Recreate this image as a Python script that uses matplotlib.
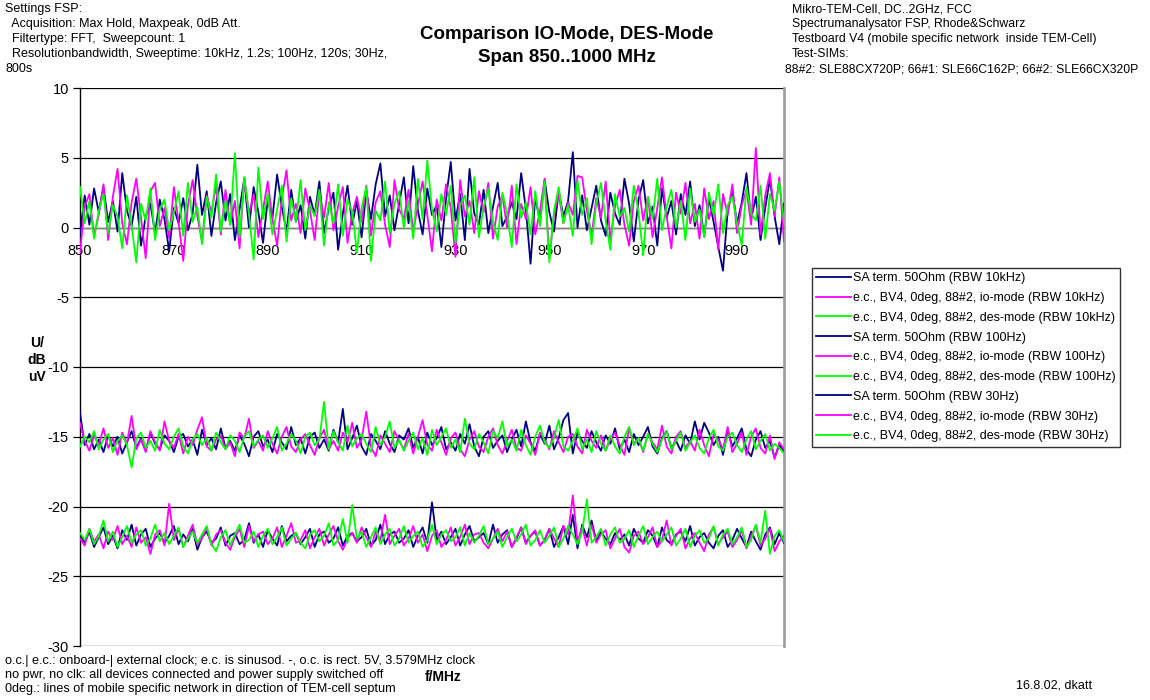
import numpy as np
import matplotlib
matplotlib.use("Agg")
import matplotlib.pyplot as plt

plt.rcParams['font.family'] = ['Liberation Sans', 'DejaVu Sans']

# ---- measured levels (dBuV), 1 MHz steps from 850 to 1000 MHz ----
navy_10k = [
    -0.5, 2.3, 0.2, 2.8, 1.1, 2.9, 0.4, 1.9, -0.3, 3.9,
    1.2, 0.1, 2.2, -1.3, 0.8, 1.7, -0.4, 2.0, 0.6, -1.7,
    1.4, 0.3, 2.1, -0.2, 1.0, 4.5, 0.9, 2.6, -0.6, 1.8,
    3.3, 0.5, 2.4, -0.9, 1.3, 3.5, 0.0, 2.9, 1.1, -1.1,
    2.0, 0.7, 3.8, 1.5, -0.3, 2.7, 0.4, 1.6, -0.8, 2.2,
    0.9, 3.3, -0.4, 1.4, 2.5, -1.6, 1.0, 3.0, 0.2, 1.9,
    -0.7, 2.6, 0.6, 3.1, 4.6, 0.8, 2.3, -0.2, 1.7, 3.6,
    0.3, 4.4, 1.2, -0.5, 2.8, 0.9, 1.6, -1.4, 2.1, 4.7,
    0.5, 2.4, -0.9, 4.2, 1.0, 0.2, 2.7, -0.4, 1.5, 3.2,
    0.1, 0.8, 1.8, 0.6, 3.9, 1.3, -2.6, 2.2, 0.4, 3.4,
    1.1, -0.3, 2.6, 0.8, 1.9, 5.4, 0.0, 2.3, -0.2, 1.4,
    3.0, 0.5, -0.6, 2.5, 1.0, 0.2, 3.5, 1.7, -1.0, 2.0,
    3.4, 0.3, 1.5, -1.3, 2.8, 0.7, 1.9, -0.5, 2.4, 0.9,
    3.3, 0.1, 1.6, -0.6, 2.1, 0.4, -1.4, -3.1, 1.2, 2.6,
    0.3, 1.8, 3.9, 0.6, 2.2, -0.9, 1.4, 3.5, 0.8, -1.2,
    1.7,
]
magenta_10k = [
    -1.8, 1.5, 2.4, -0.6, 0.9, 3.1, -0.9, 2.2, 4.2, 0.3,
    -1.2, 1.8, 3.5, 0.7, -2.2, 2.6, 3.2, 0.1, 1.4, -0.8,
    2.9, 0.4, -2.4, 1.6, 3.4, 0.8, -1.0, 2.3, 1.1, 3.0,
    -0.5, 2.7, 0.2, 1.9, -1.5, 3.6, 1.0, 2.4, -0.7, 1.3,
    3.3, 0.6, -1.3, 2.1, 4.1, 0.5, 1.7, -0.4, 2.8, 1.2,
    -0.9, 2.5, 0.7, 3.2, -0.2, 1.5, 2.9, -1.1, 1.0, 2.2,
    0.4, 3.0, -0.6, 1.8, 2.6, 0.2, -1.4, 3.4, 1.3, 0.6,
    2.7, -0.3, 1.6, 3.3, 0.9, -1.7, 2.0, 0.5, 3.1, 1.4,
    -2.1, 3.4, 0.8, 1.9, -0.4, 2.6, 1.1, 3.2, -0.8, 1.5,
    2.3, 0.0, 3.0, -1.2, 1.7, 0.6, 2.9, -0.5, 1.2, 3.5,
    -2.2, 1.0, 2.4, 0.3, 1.8, 0.9, 3.7, 3.6, 1.2, -0.6,
    2.1, 0.7, 3.3, -0.9, 1.5, 2.7, 0.2, -1.3, 1.9, 3.0,
    0.5, 2.2, -0.7, 1.4, 3.6, 0.8, -1.5, 2.5, 1.0, 3.2,
    0.3, 1.7, -0.8, 2.8, 0.6, 1.9, -1.6, 2.4, 0.9, 3.1,
    -0.4, 1.6, 2.7, 0.2, 5.7, -0.5, 2.3, 3.9, 0.8, 3.6,
    -1.0,
]
green_10k = [
    2.9, 0.3, 1.9, -0.8, 1.2, 2.4, -0.4, 1.6, 0.8, -1.5,
    2.3, 0.1, -2.5, 1.7, 0.5, 2.8, -0.9, 1.3, 2.0, -0.2,
    1.1, 2.6, -0.6, 3.2, 0.4, 1.5, -1.2, 2.2, 0.7, 3.8,
    -0.3, 1.9, 0.2, 5.3, -0.7, 3.6, 1.0, -2.3, 4.3, 0.6,
    2.4, -0.5, 1.3, 3.0, -1.0, 2.1, 0.4, 3.4, -0.2, 1.6,
    0.8, 2.7, -1.3, 1.8, 0.3, 3.1, -0.6, 2.0, 1.1, -1.8,
    1.4, 2.9, -2.4, 1.2, 0.5, 3.3, -0.4, 1.7, 2.6, 0.0,
    1.9, -0.8, 3.5, 0.6, 4.8, 1.3, -0.3, 2.4, 0.9, 3.0,
    -1.1, 1.6, 2.3, 0.2, 3.6, -0.7, 1.5, 2.8, 0.4, -0.9,
    2.5, 1.0, -1.4, 3.1, 0.7, 1.8, -0.5, 2.6, 0.1, 3.3,
    -2.5, 1.2, 2.9, 0.3, 1.6, -0.6, 3.4, 0.9, 2.1, -1.2,
    1.7, 3.2, 0.5, -1.6, 2.4, 0.8, 1.4, -0.3, 3.0, 1.1,
    -2.0, 2.2, 0.6, 3.5, -0.2, 1.5, 2.7, 0.0, 1.9, -0.9,
    2.8, 0.4, 1.3, -0.7, 2.5, 0.9, 3.1, -0.4, 1.6, 2.2,
    0.3, -1.3, 2.9, 1.0, 0.5, 3.0, -0.8, 2.4, 1.2, 3.3,
    0.4,
]
navy_100 = [
    -13.3, -15.6, -14.8, -15.9, -15.2, -16.1, -14.9, -15.7, -15.0, -16.2,
    -15.4, -14.6, -15.8, -15.1, -16.0, -14.7, -15.5, -15.9, -14.9, -15.3,
    -16.1, -15.0, -14.8, -15.7, -15.2, -16.3, -14.5, -15.6, -15.1, -15.9,
    -14.4, -15.8, -15.3, -16.0, -14.9, -15.5, -16.4, -15.0, -14.6, -15.7,
    -15.2, -16.1, -14.8, -15.4, -15.9, -14.3, -15.6, -15.1, -16.2, -15.0,
    -14.7, -15.8, -15.2, -16.0, -14.5, -15.4, -13.0, -15.9, -15.1, -14.2,
    -15.7, -16.3, -14.8, -15.3, -15.9, -14.6, -15.5, -16.1, -14.9, -15.2,
    -14.4, -15.8, -15.0, -16.2, -14.7, -15.6, -15.1, -14.3, -15.9, -15.4,
    -16.0, -14.8, -15.5, -14.1, -15.7, -16.4, -15.0, -14.6, -15.8, -15.3,
    -14.9, -16.1, -15.2, -14.5, -15.7, -13.9, -15.4, -16.0, -14.8, -15.5,
    -14.2, -15.9, -15.1, -13.8, -13.3, -16.2, -14.7, -15.3, -15.8, -14.6,
    -15.4, -16.0, -14.9, -15.5, -14.4, -15.9, -15.2, -16.1, -14.8, -15.6,
    -15.0, -14.3, -15.7, -16.2, -15.1, -14.6, -15.8, -15.3, -16.0, -14.9,
    -15.5, -13.9, -15.2, -14.0, -14.7, -15.6, -15.0, -16.3, -14.5, -15.7,
    -15.1, -14.4, -15.9, -16.4, -15.2, -14.6, -15.8, -15.3, -16.5, -15.6,
    -16.0,
]
magenta_100 = [
    -14.0, -15.3, -16.0, -14.9, -15.6, -14.4, -15.8, -15.1, -16.3, -14.7,
    -15.5, -13.5, -15.9, -15.2, -16.1, -14.6, -15.4, -16.0, -13.9, -15.3,
    -15.8, -14.8, -16.2, -15.0, -15.6, -14.5, -13.6, -15.7, -16.0, -15.2,
    -14.9, -15.9, -15.4, -16.4, -14.7, -15.1, -13.7, -15.8, -15.3, -16.0,
    -14.6, -15.5, -16.2, -15.0, -14.3, -15.7, -16.1, -15.2, -14.8, -15.6,
    -16.3, -15.1, -14.5, -15.9, -15.3, -16.0, -14.7, -15.4, -14.0, -15.8,
    -15.2, -13.2, -15.7, -16.4, -14.9, -15.5, -16.1, -14.6, -15.3, -15.9,
    -14.8, -16.2, -15.0, -13.8, -15.6, -16.0, -14.5, -15.4, -16.3, -15.1,
    -14.7, -15.9, -16.4, -15.2, -14.6, -15.7, -16.1, -15.0, -14.4, -15.6,
    -16.2, -15.3, -14.5, -15.8, -16.0, -14.9, -15.5, -16.3, -14.7, -15.2,
    -15.9, -14.6, -15.4, -16.1, -15.0, -14.8, -15.7, -16.2, -14.5, -15.3,
    -15.8, -14.9, -16.0, -15.2, -14.7, -15.6, -16.3, -14.4, -15.5, -15.1,
    -16.1, -14.8, -15.4, -15.9, -14.2, -15.7, -16.2, -15.0, -14.6, -15.8,
    -15.3, -16.0, -14.5, -15.6, -16.4, -14.8, -15.2, -15.9, -14.3, -16.1,
    -15.5, -14.7, -16.3, -15.0, -14.4, -15.8, -16.2, -14.9, -16.6, -15.4,
    -15.9,
]
green_100 = [
    -15.7, -15.0, -15.4, -14.6, -15.9, -15.2, -14.8, -16.1, -15.3, -14.9,
    -15.6, -17.2, -15.1, -14.7, -15.8, -15.3, -16.0, -14.5, -15.5, -15.9,
    -15.0, -14.4, -15.7, -16.2, -15.2, -14.8, -15.6, -15.1, -16.0, -14.7,
    -15.4, -15.9, -14.9, -15.3, -16.1, -15.0, -14.6, -15.7, -15.2, -14.9,
    -15.8, -15.1, -14.3, -16.0, -15.5, -14.8, -15.3, -16.2, -15.0, -14.7,
    -15.6, -15.2, -12.5, -15.9, -14.6, -15.4, -16.0, -14.2, -15.7, -15.1,
    -14.8, -15.5, -16.1, -14.3, -15.6, -15.0, -13.9, -15.8, -15.2, -16.0,
    -15.3, -14.7, -15.9, -15.1, -16.3, -14.5, -15.6, -15.0, -14.4, -15.8,
    -15.2, -16.1, -13.7, -15.5, -15.9, -14.8, -15.4, -16.2, -14.6, -15.1,
    -13.9, -15.7, -15.2, -16.0, -14.5, -15.6, -16.3, -15.0, -14.2, -15.4,
    -15.8, -15.1, -13.8, -15.7, -16.0, -15.3, -14.4, -15.9, -15.2, -16.1,
    -14.6, -15.5, -16.0, -14.9, -15.7, -16.2, -15.0, -14.3, -15.6, -15.1,
    -16.0, -14.8, -15.5, -16.1, -15.2, -14.6, -15.9, -15.3, -14.7, -16.0,
    -15.4, -14.9, -15.8, -16.2, -15.1, -14.5, -15.7, -16.0, -15.0, -14.7,
    -15.6, -16.1, -15.2, -14.6, -15.9, -15.3, -14.8, -16.0, -15.5, -15.8,
    -16.2,
]
navy_30 = [
    -22.0, -22.6, -21.8, -22.9, -22.2, -21.5, -22.7, -22.1, -23.0, -21.7,
    -22.4, -21.3, -22.8, -22.0, -21.6, -22.9, -22.3, -21.9, -22.6, -22.1,
    -21.4, -22.7, -22.0, -22.5, -21.6, -23.1, -22.2, -21.8, -22.6, -22.3,
    -21.5, -22.8, -22.1, -21.9, -22.7, -22.4, -21.2, -22.6, -22.0, -22.9,
    -21.7, -22.3, -22.8, -21.4, -22.5, -22.1, -21.9, -22.7, -22.2, -21.6,
    -22.9, -22.0, -21.8, -22.6, -22.3, -21.5, -22.8, -22.1, -21.9, -22.5,
    -22.2, -21.6, -22.8, -22.4, -21.3, -22.7, -22.0, -21.8, -22.6, -22.3,
    -21.7, -22.9, -22.1, -21.5, -22.6, -19.7, -22.4, -21.8, -22.7, -22.2,
    -21.6, -22.8, -22.0, -21.4, -22.5, -22.2, -21.9, -22.7, -21.3, -22.6,
    -22.0, -21.7, -22.9, -22.3, -21.5, -22.6, -22.1, -21.8, -22.8, -22.4,
    -21.6, -22.9, -22.2, -21.4, -22.7, -20.6, -23.0, -21.3, -22.2, -21.0,
    -22.5, -21.8, -22.3, -22.7, -21.9, -22.4, -22.0, -22.8, -21.6, -22.3,
    -22.6, -21.7, -22.1, -22.9, -21.5, -22.4, -22.7, -22.0, -21.8, -22.5,
    -21.4, -22.8, -22.2, -21.9, -22.6, -23.0, -22.1, -21.7, -22.9, -22.4,
    -21.6, -22.3, -22.9, -21.8, -22.5, -23.1, -22.0, -21.5, -22.7, -21.9,
    -22.6,
]
magenta_30 = [
    -22.3, -22.8, -21.6, -22.5, -22.0, -23.0, -21.8, -22.4, -21.4, -22.7,
    -22.1, -22.9, -21.5, -22.6, -22.2, -23.4, -22.0, -21.7, -22.8, -19.8,
    -22.4, -21.6, -22.9, -22.1, -21.3, -22.7, -22.3, -21.5, -22.8, -22.0,
    -21.7, -22.6, -23.1, -22.2, -21.6, -22.9, -21.4, -22.5, -22.0, -21.8,
    -22.7, -22.3, -21.5, -22.9, -22.1, -21.2, -22.6, -22.4, -21.7, -23.0,
    -22.2, -21.6, -22.8, -22.0, -21.4, -22.5, -23.1, -22.3, -21.9, -22.6,
    -21.5, -22.2, -22.9, -21.8, -22.4, -20.6, -22.7, -22.1, -21.6, -22.8,
    -22.3, -21.4, -22.6, -22.0, -23.2, -22.1, -21.7, -22.9, -22.4, -21.5,
    -22.8, -22.2, -21.3, -22.7, -22.0, -21.9, -22.6, -23.0, -22.3, -21.6,
    -22.5, -21.8, -22.9, -22.2, -21.5, -22.7, -22.1, -21.7, -22.8, -22.4,
    -21.6, -22.3, -22.9, -21.4, -22.0, -19.2, -22.5, -21.5, -22.8, -21.3,
    -22.6, -22.0, -21.7, -23.0, -22.3, -21.6, -22.9, -23.3, -22.1, -21.8,
    -22.7, -22.2, -21.5, -22.9, -22.4, -21.0, -22.8, -22.1, -21.6, -23.0,
    -22.3, -21.9, -22.6, -23.2, -22.0, -21.5, -22.7, -22.2, -21.8, -22.9,
    -22.4, -21.7, -23.0, -22.1, -21.4, -22.8, -22.3, -21.6, -23.2, -22.5,
    -22.1,
]
green_30 = [
    -21.9, -22.4, -21.6, -22.7, -22.1, -21.0, -22.5, -21.8, -22.9, -22.2,
    -21.4, -22.6, -22.0, -21.7, -22.8, -22.3, -21.3, -22.5, -21.9, -22.7,
    -22.1, -21.5, -22.9, -22.3, -21.8, -22.6, -22.0, -21.4, -22.7, -23.2,
    -22.2, -21.7, -22.8, -22.0, -21.3, -22.6, -22.4, -21.8, -22.9, -22.1,
    -21.6, -22.7, -22.2, -21.5, -22.8, -22.3, -21.9, -22.6, -23.0, -22.0,
    -21.7, -22.5, -22.1, -21.2, -22.8, -22.4, -20.9, -22.6, -19.9, -22.3,
    -21.8, -22.9, -22.2, -21.5, -22.7, -22.0, -21.6, -22.8, -22.3, -21.4,
    -22.6, -22.1, -21.8, -22.9, -22.4, -21.3, -22.7, -22.0, -21.7, -22.5,
    -22.2, -21.5, -22.8, -21.9, -22.6, -22.1, -21.4, -22.7, -22.3, -21.8,
    -22.9, -22.2, -21.6, -22.5, -22.0, -21.3, -22.8, -22.4, -21.7, -22.6,
    -22.1, -21.5, -22.9, -22.3, -21.4, -22.0, -22.7, -21.8, -19.5, -22.6,
    -22.2, -21.6, -22.8, -22.0, -21.5, -22.6, -22.3, -21.7, -22.9, -22.1,
    -21.4, -22.7, -22.2, -21.8, -22.5, -22.0, -21.5, -22.8, -22.3, -21.6,
    -22.9, -22.1, -21.7, -22.6, -22.3, -21.4, -22.8, -22.0, -21.6, -22.7,
    -22.2, -21.5, -22.9, -22.4, -21.3, -22.6, -20.3, -23.4, -22.1, -21.7,
    -22.5,
]

series_labels = [
    "SA term. 50Ohm (RBW 10kHz)",
    "e.c., BV4, 0deg, 88#2, io-mode (RBW 10kHz)",
    "e.c., BV4, 0deg, 88#2, des-mode (RBW 10kHz)",
    "SA term. 50Ohm (RBW 100Hz)",
    "e.c., BV4, 0deg, 88#2, io-mode (RBW 100Hz)",
    "e.c., BV4, 0deg, 88#2, des-mode (RBW 100Hz)",
    "SA term. 50Ohm (RBW 30Hz)",
    "e.c., BV4, 0deg, 88#2, io-mode (RBW 30Hz)",
    "e.c., BV4, 0deg, 88#2, des-mode (RBW 30Hz)",
]
series_values = [navy_10k, magenta_10k, green_10k,
                 navy_100, magenta_100, green_100,
                 navy_30, magenta_30, green_30]
series_colors = ["#000080", "#FF00FF", "#00FF00"] * 3

x_ticks = [850, 870, 890, 910, 930, 950, 970, 990]
y_ticks = [-30, -25, -20, -15, -10, -5, 0, 5, 10]

footer_lines = [
    "o.c.| e.c.: onboard-| external clock; e.c. is sinusod. -, o.c. is rect. 5V, 3.579MHz clock",
    "no pwr, no clk: all devices connected and power supply switched off",
    "0deg.: lines of mobile specific network in direction of TEM-cell septum",
]

W, H = 1150, 700
fig = plt.figure(figsize=(W / 100, H / 100), dpi=100)
ax = fig.add_axes([80 / W, 1 - 646 / H, 704 / W, 558 / H])

handles = []
for vals, col, lab in zip(series_values, series_colors, series_labels):
    freq = np.linspace(850, 1000, len(vals))
    h, = ax.plot(freq, vals, color=col, lw=1.3, label=lab, zorder=3)
    handles.append(h)

ax.set_xlim(850, 1000)
ax.set_ylim(-30, 10)

# horizontal gridlines
ax.set_yticks(y_ticks)
ax.set_yticklabels([str(v) for v in y_ticks], fontsize=10.5)
ax.yaxis.grid(True, color="black", lw=0.9, zorder=1)
ax.tick_params(axis="y", direction="out", length=5, width=0.9, pad=3)

# category axis crossing at 0
ax.spines["bottom"].set_position(("data", 0))
ax.spines["bottom"].set_color("#808080")
ax.spines["bottom"].set_linewidth(1.0)
ax.set_xticks(x_ticks)
ax.set_xticklabels([str(v) for v in x_ticks], fontsize=10.5)
ax.tick_params(axis="x", length=0, pad=12)

ax.spines["top"].set_visible(False)
ax.spines["right"].set_color("#A0A0A0")
ax.spines["right"].set_linewidth(2)
ax.spines["left"].set_color("black")
ax.spines["left"].set_linewidth(1.0)
ax.patch.set_visible(False)

# axis titles
fig.text(37 / W, 1 - 360 / H, "U/\ndB\nuV", ha="center", va="center",
         fontsize=10, fontweight="bold", linespacing=1.25)
fig.text(443 / W, 1 - 677 / H, "f/MHz", ha="center", va="center",
         fontsize=10, fontweight="bold")

# title
fig.text(567 / W, 1 - 46 / H, "Comparison IO-Mode, DES-Mode\nSpan 850..1000 MHz",
         ha="center", va="center", fontsize=13.5, fontweight="bold",
         linespacing=1.5)

# header notes
fig.text(5 / W, 1 - 3 / H,
         "Settings FSP:\n  Acquisition: Max Hold, Maxpeak, 0dB Att.\n"
         "  Filtertype: FFT,  Sweepcount: 1\n"
         "  Resolutionbandwidth, Sweeptime: 10kHz, 1.2s; 100Hz, 120s; 30Hz,\n800s",
         ha="left", va="top", fontsize=9, linespacing=1.32)
fig.text(792 / W, 1 - 3 / H,
         "Mikro-TEM-Cell, DC..2GHz, FCC\nSpectrumanalysator FSP, Rhode&Schwarz\n"
         "Testboard V4 (mobile specific network  inside TEM-Cell)\nTest-SIMs:",
         ha="left", va="top", fontsize=8.8, linespacing=1.35)
fig.text(785 / W, 1 - 69 / H,
         "88#2: SLE88CX720P; 66#1: SLE66C162P; 66#2: SLE66CX320P",
         ha="left", va="center", fontsize=8.8)

# footer notes, one text per line
for i, line in enumerate(footer_lines):
    fig.text(5 / W, 1 - (661 + 14 * i) / H, line, ha="left", va="center",
             fontsize=9.1)
fig.text(1016 / W, 1 - 685 / H, "16.8.02, dkatt", ha="left", va="center",
         fontsize=9)

leg = fig.legend(handles=handles, loc="upper left",
                 bbox_to_anchor=(812 / W, 1 - 268 / H),
                 fontsize=9.0, frameon=True, fancybox=False,
                 handlelength=2.8, handletextpad=0.1, labelspacing=0.62,
                 borderpad=0.35, borderaxespad=0)
leg.get_frame().set_edgecolor("black")
leg.get_frame().set_linewidth(1.0)

fig.savefig("out.png", dpi=100)
